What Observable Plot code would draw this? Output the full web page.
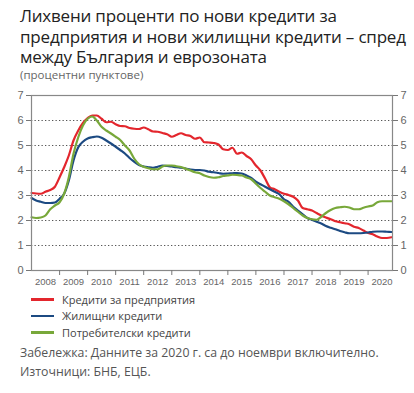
<!DOCTYPE html>
<html><head><meta charset="utf-8">
<script src="https://cdn.jsdelivr.net/npm/d3@7"></script>
<script src="https://cdn.jsdelivr.net/npm/@observablehq/plot@0.6"></script>
<style>
body{margin:0;background:#fff;font-family:"Open Sans","Noto Sans",sans-serif;width:414px;height:393px;position:relative;overflow:hidden;color:#333}
#title{position:absolute;left:20px;top:6px;font-size:17px;line-height:20.5px;color:#222;width:390px;letter-spacing:-0.2px}
#sub{position:absolute;left:20px;top:67px;font-size:11.5px;color:#666}
#chart{position:absolute;left:0;top:85px}
#legend{position:absolute;left:31px;top:291px;font-size:11px;color:#444}
#legend div{height:16.5px;display:flex;align-items:center}
#legend span.sw{display:inline-block;width:23px;height:2.5px;margin-right:8px}
#notes{position:absolute;left:20px;top:344px;font-size:12.3px;color:#555;line-height:18.5px}
</style></head><body>
<div id="title">Лихвени проценти по нови кредити за предприятия и нови жилищни кредити – спред между България и еврозоната</div>
<div id="sub">(процентни пунктове)</div>
<div id="chart"></div>
<div id="legend"></div>
<div id="notes">Забележка: Данните за 2020 г. са до ноември включително.<br>Източници: БНБ, ЕЦБ.</div>
<script>
// bimonthly observations, Jan 2008 ... Nov 2020 (Jan, Mar, May, Jul, Sep, Nov)
const years = [2008,2009,2010,2011,2012,2013,2014,2015,2016,2017,2018,2019,2020];
const months = [0,2,4,6,8,10];
const seriesNames = ["Кредити за предприятия","Жилищни кредити","Потребителски кредити"];
const seriesColors = ["#e3262d","#1c4a82","#78a83a"];
const yTicks = [0,1,2,3,4,5,6,7];
const gridLevels = [1,2,3,4,5,6];

const business = [
 3.10,3.08,3.07,3.15,3.22,3.35,
 3.73,4.13,4.60,5.20,5.60,5.90,
 6.10,6.20,6.20,6.07,5.93,5.95,
 5.85,5.78,5.77,5.70,5.67,5.66,
 5.72,5.65,5.56,5.55,5.50,5.45,
 5.35,5.42,5.49,5.42,5.38,5.27,
 5.32,5.13,5.12,5.10,5.04,4.85,
 4.82,4.91,4.67,4.72,4.58,4.45,
 4.20,4.00,3.67,3.33,3.25,3.15,
 3.07,3.02,2.95,2.80,2.50,2.45,
 2.40,2.30,2.20,2.12,2.05,1.97,
 1.93,1.89,1.85,1.75,1.70,1.60,
 1.50,1.45,1.36,1.30,1.30,1.33];
const housing = [
 2.90,2.80,2.75,2.70,2.70,2.72,
 2.87,3.07,3.60,4.40,4.93,5.15,
 5.28,5.33,5.36,5.31,5.20,5.08,
 4.95,4.82,4.68,4.50,4.35,4.22,
 4.16,4.13,4.11,4.15,4.20,4.18,
 4.16,4.13,4.11,4.08,4.04,4.02,
 4.02,4.00,3.95,3.93,3.90,3.87,
 3.88,3.89,3.90,3.88,3.80,3.70,
 3.55,3.45,3.35,3.25,3.15,3.05,
 2.85,2.75,2.55,2.40,2.25,2.10,
 2.03,1.95,1.88,1.78,1.71,1.65,
 1.58,1.53,1.49,1.49,1.49,1.50,
 1.52,1.55,1.56,1.56,1.55,1.54];
const consumer = [
 2.13,2.10,2.12,2.20,2.45,2.60,
 2.73,3.07,3.73,4.67,5.33,5.80,
 6.07,6.16,6.00,5.75,5.60,5.48,
 5.35,5.22,5.00,4.80,4.47,4.25,
 4.15,4.09,4.05,4.05,4.16,4.20,
 4.20,4.17,4.14,4.07,4.00,3.93,
 3.89,3.80,3.74,3.71,3.73,3.78,
 3.80,3.83,3.82,3.80,3.72,3.65,
 3.47,3.30,3.15,3.00,2.93,2.87,
 2.77,2.65,2.50,2.35,2.20,2.10,
 2.05,2.03,2.15,2.30,2.42,2.50,
 2.53,2.55,2.52,2.45,2.45,2.51,
 2.56,2.60,2.73,2.77,2.77,2.77];

const dates = years.flatMap(y => months.map(m => new Date(Date.UTC(y, m, 1))));
const allSeries = [business, housing, consumer];
const data = allSeries.flatMap((vals, i) => vals.map((v, j) => ({date: dates[j], value: v, series: seriesNames[i]})));
const yearStarts = years.slice(1).map(y => new Date(Date.UTC(y, 0, 1)));
const midYears = years.map(y => new Date(Date.UTC(y, 6, 1)));

const plot = Plot.plot({
  width: 414, height: 205,
  marginLeft: 31, marginRight: 22, marginTop: 10, marginBottom: 20,
  style: {fontFamily: "Liberation Sans, Arial, sans-serif", color: "#666", background: "transparent"},
  x: {type: "utc", domain: [new Date(Date.UTC(2008,0,1)), new Date(Date.UTC(2020,10,14))]},
  y: {domain: [0, 7]},
  color: {domain: seriesNames, range: seriesColors},
  marks: [
    Plot.ruleY(gridLevels, {stroke: "#555", strokeDasharray: "1.3,2.2", strokeWidth: 1}),
    Plot.line(data, {x: "date", y: "value", z: "series", stroke: "series", strokeWidth: 2.2, curve: "monotone-x"}),
    Plot.frame({stroke: "#888", strokeWidth: 1.2}),
    Plot.axisY({anchor: "left", ticks: yTicks, tickFormat: d3.format("d"), tickSize: 5, tickPadding: 3, fontSize: 11, label: null, stroke: "#777"}),
    Plot.axisY({anchor: "right", ticks: yTicks, tickFormat: d3.format("d"), tickSize: 5, tickPadding: 3, fontSize: 11, label: null, stroke: "#777"}),
    Plot.axisX({ticks: yearStarts, tickSize: 5, tickFormat: () => "", label: null, stroke: "#777"}),
    Plot.axisX({ticks: midYears, tickSize: 0, tickPadding: 8, tickFormat: d3.utcFormat("%Y"), fontSize: 9.5, label: null})
  ]
});
document.getElementById("chart").appendChild(plot);

const lg = document.getElementById("legend");
seriesNames.forEach((n, i) => {
  const d = document.createElement("div");
  d.innerHTML = `<span class="sw" style="background:${seriesColors[i]}"></span>${n}`;
  lg.appendChild(d);
});
</script>
</body></html>
